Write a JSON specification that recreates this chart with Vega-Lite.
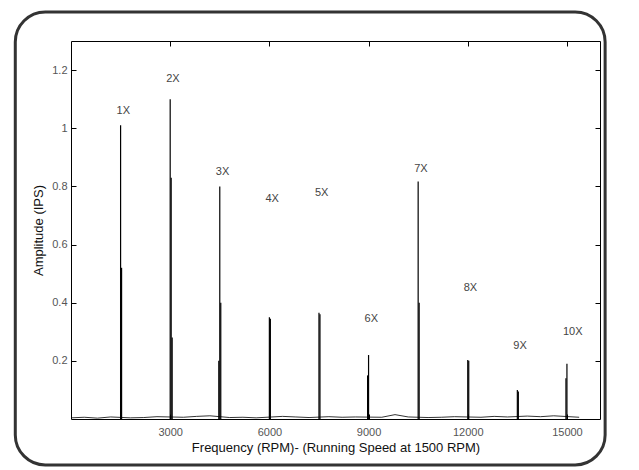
{
  "$schema": "https://vega.github.io/schema/vega-lite/v6.json",
  "autosize": "none",
  "width": 529,
  "height": 378,
  "padding": {"left": 71, "top": 41, "right": 39, "bottom": 51},
  "background": "white",
  "config": {
    "view": {"stroke": "#000", "strokeWidth": 1},
    "font": "Liberation Sans",
    "axis": {"grid": false, "domain": false, "tickColor": "#000", "tickSize": -5, "labelColor": "#555", "labelFontSize": 11, "titleFontSize": 13, "titleFontWeight": "normal", "titleColor": "#111", "labelFont": "Liberation Sans", "titleFont": "Liberation Sans"}
  },
  "datasets": {
    "peaks": [
      {"freq": 1500, "amp": 1.01},
      {"freq": 1530, "amp": 0.52},
      {"freq": 3000, "amp": 1.1},
      {"freq": 3030, "amp": 0.83},
      {"freq": 3060, "amp": 0.28},
      {"freq": 4500, "amp": 0.8},
      {"freq": 4530, "amp": 0.4},
      {"freq": 4470, "amp": 0.2},
      {"freq": 6000, "amp": 0.35},
      {"freq": 6030, "amp": 0.345},
      {"freq": 7500, "amp": 0.365},
      {"freq": 7530, "amp": 0.36},
      {"freq": 9000, "amp": 0.22},
      {"freq": 8970, "amp": 0.15},
      {"freq": 10500, "amp": 0.817},
      {"freq": 10530, "amp": 0.4},
      {"freq": 12000, "amp": 0.203},
      {"freq": 12030, "amp": 0.2},
      {"freq": 13500, "amp": 0.1},
      {"freq": 13530, "amp": 0.095},
      {"freq": 15000, "amp": 0.19},
      {"freq": 14970, "amp": 0.14}
    ],
    "labels": [
      {"freq": 1500, "y": 1.06, "label": "1X"},
      {"freq": 3000, "y": 1.17, "label": "2X"},
      {"freq": 4500, "y": 0.85, "label": "3X"},
      {"freq": 6000, "y": 0.755, "label": "4X"},
      {"freq": 7500, "y": 0.776, "label": "5X"},
      {"freq": 9000, "y": 0.345, "label": "6X"},
      {"freq": 10500, "y": 0.86, "label": "7X"},
      {"freq": 12000, "y": 0.45, "label": "8X"},
      {"freq": 13500, "y": 0.25, "label": "9X"},
      {"freq": 15000, "y": 0.3, "label": "10X"}
    ],
    "noise": [
      {"freq": 0, "amp": 0.004}, {"freq": 400, "amp": 0.006}, {"freq": 800, "amp": 0.003},
      {"freq": 1200, "amp": 0.007}, {"freq": 1800, "amp": 0.004}, {"freq": 2200, "amp": 0.005},
      {"freq": 2600, "amp": 0.008}, {"freq": 3400, "amp": 0.006}, {"freq": 3800, "amp": 0.009},
      {"freq": 4200, "amp": 0.011}, {"freq": 4800, "amp": 0.005}, {"freq": 5200, "amp": 0.006},
      {"freq": 5600, "amp": 0.004}, {"freq": 6400, "amp": 0.009}, {"freq": 6800, "amp": 0.007},
      {"freq": 7200, "amp": 0.005}, {"freq": 7800, "amp": 0.008}, {"freq": 8200, "amp": 0.006},
      {"freq": 8600, "amp": 0.007}, {"freq": 9400, "amp": 0.006}, {"freq": 9800, "amp": 0.015},
      {"freq": 10200, "amp": 0.007}, {"freq": 10800, "amp": 0.005}, {"freq": 11200, "amp": 0.006},
      {"freq": 11600, "amp": 0.008}, {"freq": 12400, "amp": 0.006}, {"freq": 12800, "amp": 0.009},
      {"freq": 13200, "amp": 0.007}, {"freq": 13800, "amp": 0.01}, {"freq": 14200, "amp": 0.008},
      {"freq": 14600, "amp": 0.011}, {"freq": 15370, "amp": 0.006}
    ]
  },
  "layer": [
    {
      "data": {"values": [{}]},
      "mark": {"type": "rect", "clip": false, "fill": "transparent", "stroke": "#333", "strokeWidth": 3, "cornerRadius": 30},
      "encoding": {
        "x": {"datum": -1685, "type": "quantitative", "scale": {"domain": [0, 15370]}, "axis": null},
        "x2": {"datum": 16155},
        "y": {"datum": 1.4, "type": "quantitative", "scale": {"domain": [0, 1.3]}, "axis": null},
        "y2": {"datum": -0.158}
      }
    },
    {
      "data": {"name": "noise"},
      "mark": {"type": "line", "color": "#000", "strokeWidth": 0.8},
      "encoding": {
        "x": {"field": "freq", "type": "quantitative",
          "axis": {"values": [3000, 6000, 9000, 12000, 15000], "format": "d", "title": "Frequency (RPM)- (Running Speed at 1500 RPM)", "labelPadding": 12, "titlePadding": 4}},
        "y": {"field": "amp", "type": "quantitative",
          "axis": {"values": [0.2, 0.4, 0.6, 0.8, 1, 1.2], "format": "~g", "title": "Amplitude (IPS)", "labelPadding": 9, "titlePadding": 6}}
      }
    },
    {
      "data": {"name": "peaks"},
      "mark": {"type": "rule", "color": "#000", "strokeWidth": 1.2},
      "encoding": {
        "x": {"field": "freq", "type": "quantitative", "axis": null},
        "y": {"field": "amp", "type": "quantitative", "axis": null},
        "y2": {"datum": 0}
      }
    },
    {
      "data": {"name": "labels"},
      "mark": {"type": "text", "align": "left", "baseline": "middle", "dx": -4, "fontSize": 11, "color": "#444", "font": "Liberation Sans"},
      "encoding": {
        "x": {"field": "freq", "type": "quantitative", "axis": null},
        "y": {"field": "y", "type": "quantitative", "axis": null},
        "text": {"field": "label"}
      }
    },
    {
      "data": {"values": [{}]},
      "mark": {"type": "rule", "opacity": 0},
      "encoding": {
        "x": {"datum": 0, "type": "quantitative", "axis": {"orient": "top", "values": [3000, 6000, 9000, 12000, 15000], "labels": false, "title": null}},
        "y": {"datum": 0, "type": "quantitative", "axis": {"orient": "right", "values": [0.2, 0.4, 0.6, 0.8, 1, 1.2], "labels": false, "title": null}}
      }
    }
  ],
  "resolve": {"axis": {"x": "independent", "y": "independent"}}
}
